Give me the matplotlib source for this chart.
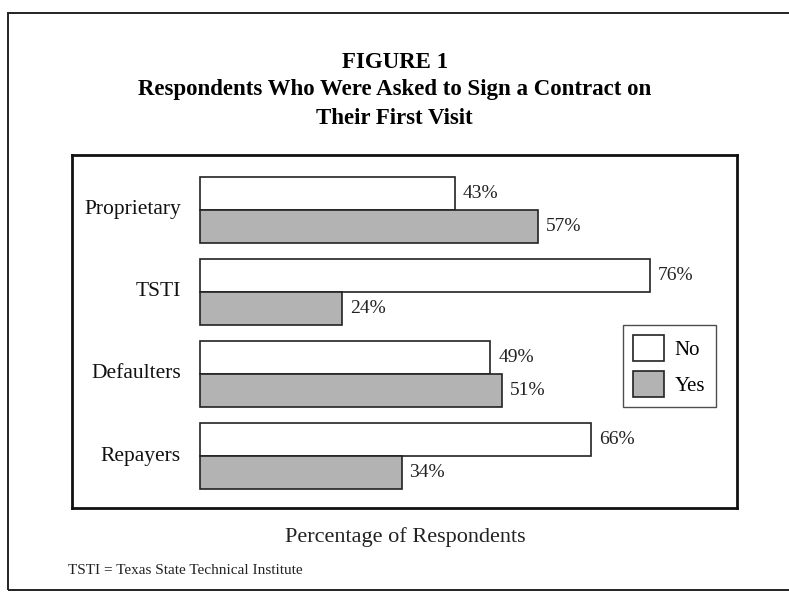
# -*- coding: utf-8 -*-
'''
Figure 1: respondents asked to sign a contract on their first visit
'''

import matplotlib.pyplot as plt
from matplotlib.patches import Rectangle

plt.rcParams['font.family'] = ['Liberation Serif', 'DejaVu Serif']

# Data (percent of respondents)
groups = ["Proprietary", "TSTI", "Defaulters", "Repayers"]
no_pct = [43, 76, 49, 66]
yes_pct = [57, 24, 51, 34]
series_names = ["No", "Yes"]

W, H = 789, 594
fig = plt.figure(figsize=(W / 100, H / 100), dpi=100)

# outer frame (runs off the right edge like the scan)
fig.patches.append(Rectangle((8 / W, 1 - 590 / H), 800 / W, 577 / H,
                             transform=fig.transFigure, fill=False,
                             edgecolor='#222222', linewidth=1.4))

# title
fig.text(0.5, 1 - 62 / H, "FIGURE 1", ha='center', va='center',
         fontsize=16.5, fontweight='bold')
fig.text(0.5, 1 - 90 / H, "Respondents Who Were Asked to Sign a Contract on",
         ha='center', va='center', fontsize=16.5, fontweight='bold')
fig.text(0.5, 1 - 118 / H, "Their First Visit", ha='center', va='center',
         fontsize=16.5, fontweight='bold')

# plot area (the inner box)
ax = fig.add_axes([72 / W, 1 - 508 / H, (737 - 72) / W, (508 - 155) / H])
for s in ax.spines.values():
    s.set_linewidth(2.0)
    s.set_color('#111111')

pos = [3, 2, 1, 0]
h = 0.40
no_bars = ax.barh([p + h / 2 for p in pos], no_pct, height=h,
                  color='white', edgecolor='#222222', linewidth=1.2,
                  label=series_names[0])
yes_bars = ax.barh([p - h / 2 for p in pos], yes_pct, height=h,
                   color='#b3b3b3', edgecolor='#222222', linewidth=1.2,
                   label=series_names[1])

for bars, vals in ((no_bars, no_pct), (yes_bars, yes_pct)):
    for b, v in zip(bars, vals):
        ax.text(v + 1.3, b.get_y() + b.get_height() / 2, "%d%%" % v,
                ha='left', va='center', fontsize=14, color='#222222')

for p, g in zip(pos, groups):
    ax.text(-3.2, p, g, ha='right', va='center', fontsize=15.5,
            color='#111111')

ax.set_xlim(-21.6, 90.6)
ax.set_ylim(-0.634, 3.67)
ax.set_xticks([])
ax.set_yticks([])

leg = ax.legend(handles=[no_bars, yes_bars], loc='center',
                bbox_to_anchor=(669 / W, 1 - 366 / H),
                bbox_transform=fig.transFigure, fontsize=15,
                frameon=True, fancybox=False, handlelength=1.5,
                handleheight=1.5, handletextpad=0.5, labelspacing=0.5,
                borderpad=0.5)
leg.get_frame().set_edgecolor('#222222')
leg.get_frame().set_linewidth(1.0)

fig.text(405 / W, 1 - 537 / H, "Percentage of Respondents", ha='center',
         va='center', fontsize=16, color='#222222')
fig.text(68 / W, 1 - 570 / H, "TSTI = Texas State Technical Institute",
         ha='left', va='center', fontsize=11, color='#222222')

fig.savefig('out.png', dpi=100, facecolor='white')
